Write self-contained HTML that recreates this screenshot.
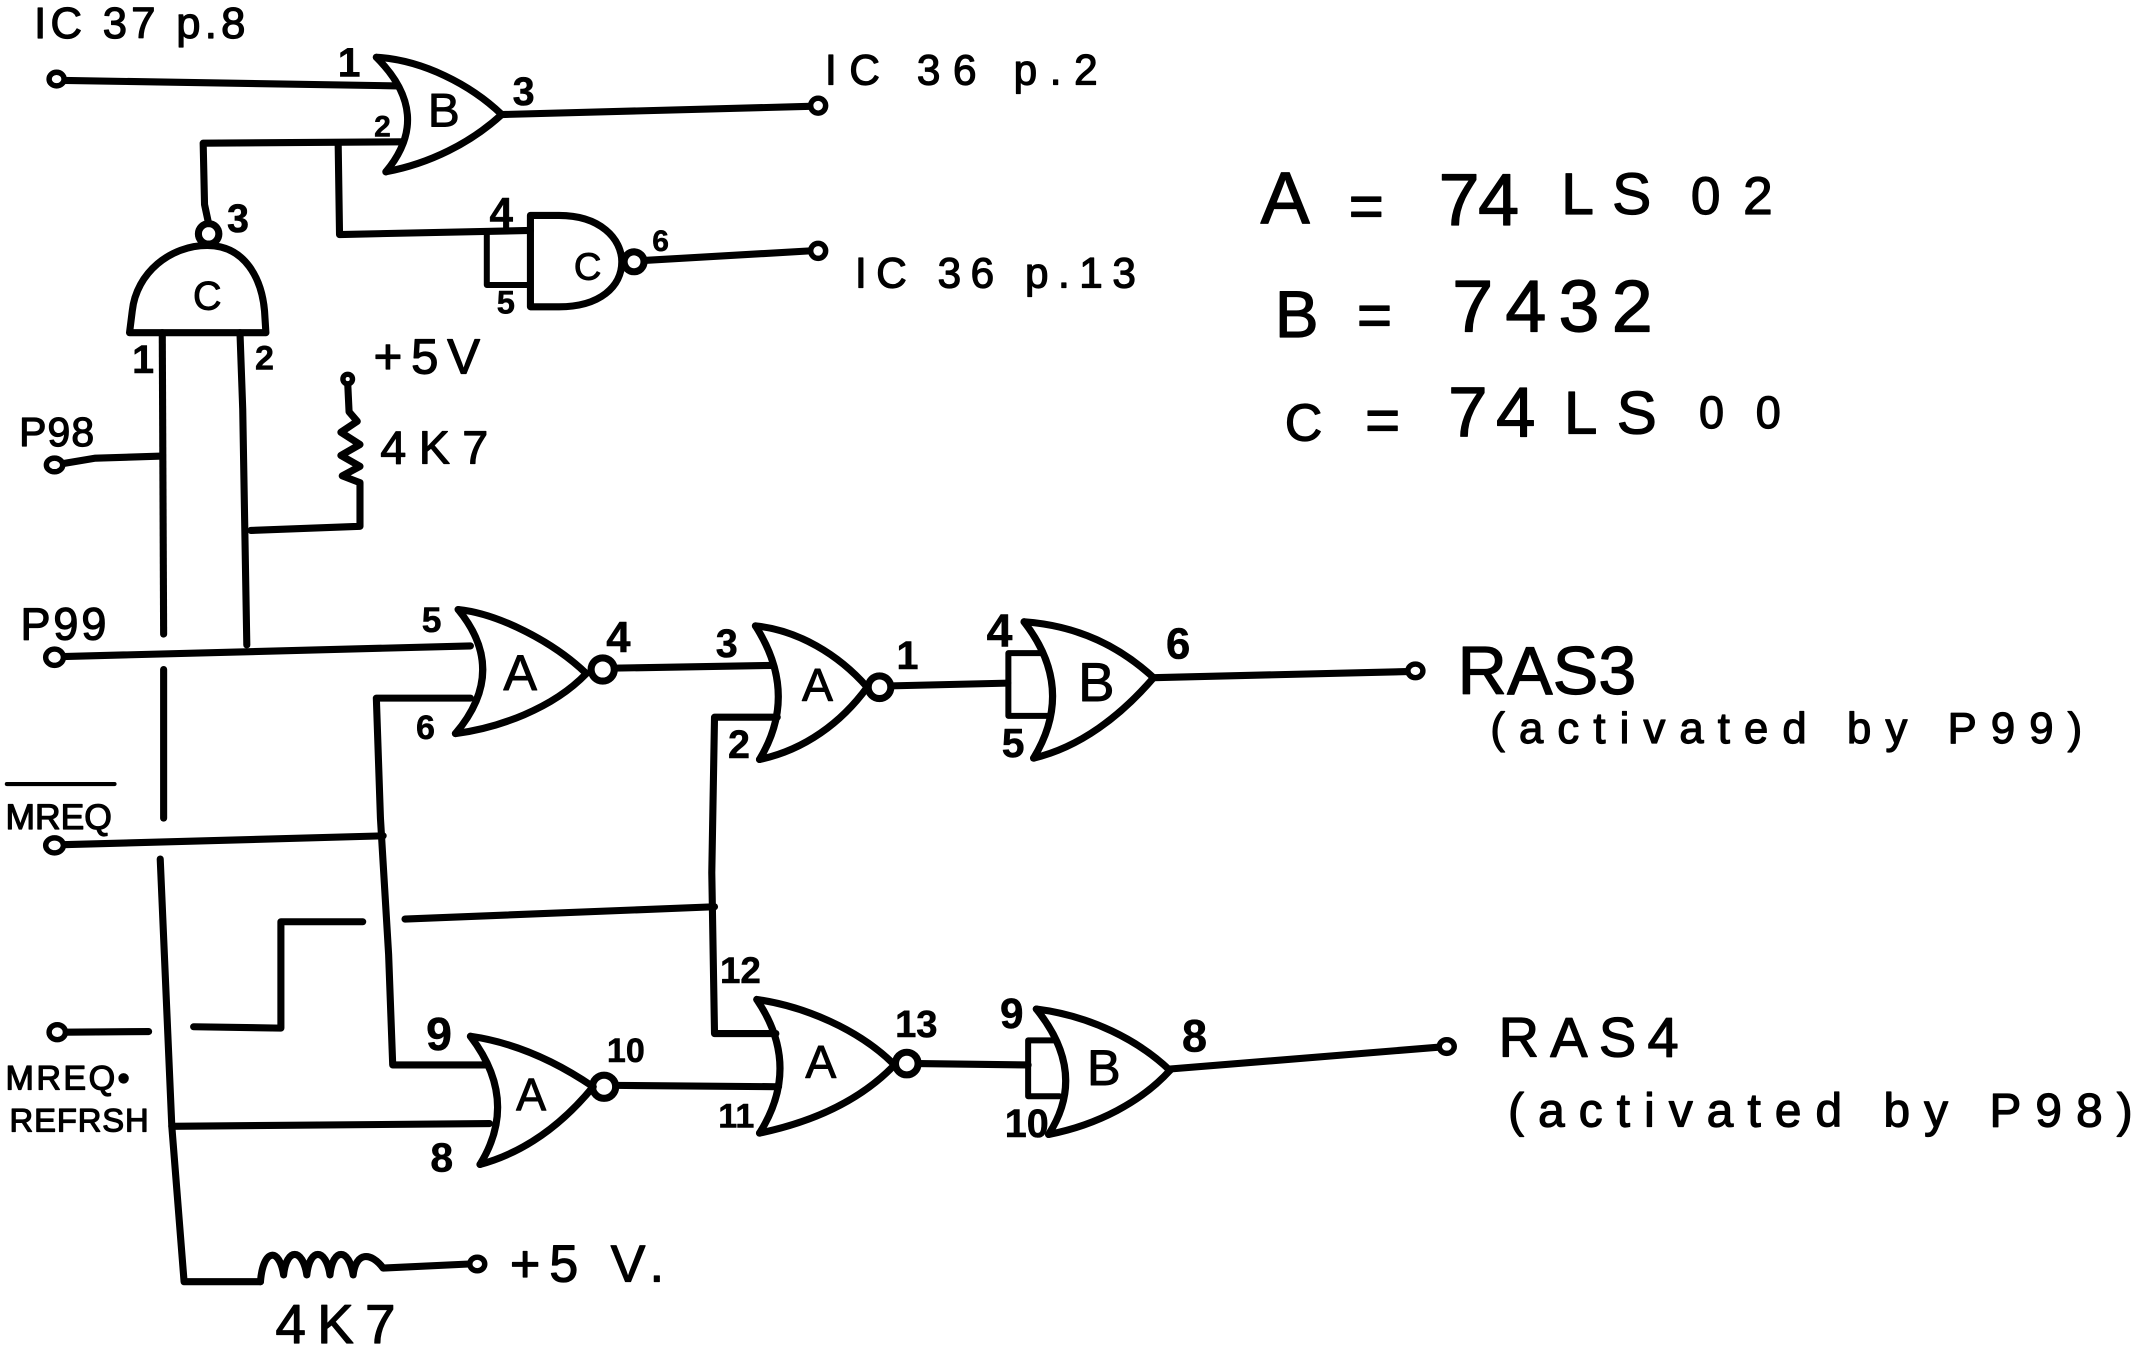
<!DOCTYPE html>
<html>
<head>
<meta charset="utf-8">
<style>
  html, body { margin:0; padding:0; background:#fff; overflow:hidden; }
  svg { display:block; }
  text { font-family:"Liberation Sans", sans-serif; fill:#000; stroke:#000; stroke-width:0.9; stroke-linejoin:round; }
  .pin { font-weight:bold; stroke-width:0.4; text-anchor:middle; }
  .gl { text-anchor:middle; stroke-width:0.7; }
  .w { fill:none; stroke:#000; stroke-width:5.2; stroke-linecap:round; stroke-linejoin:round; }
  .g { fill:none; stroke:#000; stroke-width:5.2; stroke-linecap:round; stroke-linejoin:round; }
  .b { fill:none; stroke:#000; stroke-width:4.4; stroke-linecap:round; stroke-linejoin:round; }
  .t { fill:#fff; stroke:#000; stroke-width:4; }
</style>
</head>
<body>
<svg xmlns="http://www.w3.org/2000/svg" width="2137" height="1345" viewBox="0 0 1567.2 986.4" preserveAspectRatio="none">
  <rect x="0" y="0" width="1567.2" height="986.4" fill="#fff"/>

  <!-- ===== TOP SECTION ===== -->
  <text x="25" y="28" font-size="32" textLength="155">IC 37 p.8</text>
  <path class="w" d="M47,59 L292,63"/>
  <ellipse class="t" cx="41.5" cy="58" rx="5.5" ry="5"/>

  <!-- Gate B (top OR) -->
  <path class="g" d="M276,42 Q318,84 283,126"/>
  <path class="g" d="M276,42 C310,44 345,62 368,84"/>
  <path class="g" d="M283,126 C315,120 345,105 368,84"/>
  <text class="gl" x="325.5" y="92.6" font-size="35">B</text>
  <text class="pin" x="256" y="56" font-size="30">1</text>
  <text class="pin" x="280.5" y="100" font-size="22">2</text>
  <text class="pin" x="384" y="77" font-size="29">3</text>

  <!-- output B top -->
  <path class="w" d="M368,84 L594,78"/>
  <ellipse class="t" cx="600" cy="77.5" rx="5.5" ry="5.5"/>
  <text x="605" y="62" font-size="31" textLength="200">IC 36 p.2</text>

  <!-- input 2 wire & C1 output -->
  <path class="w" d="M153,164 L150,150 L149,105 L296,104"/>
  <path class="w" d="M248,105 L249,172 L389,169"/>
  <path class="b" d="M357,170 L357,209 L389,209"/>

  <!-- Gate C small (NAND right) -->
  <path class="g" d="M389,158 L410,158 C440,158 456,175 456,192 C456,210 440,225 410,225 L389,225 Z"/>
  <circle class="g" cx="465" cy="192" r="7.3" fill="#fff"/>
  <text class="gl" x="431" y="205" font-size="28">C</text>
  <text class="pin" x="367.6" y="167" font-size="31">4</text>
  <text class="pin" x="371" y="230" font-size="24">5</text>
  <text class="pin" x="484.5" y="184" font-size="22">6</text>
  <path class="w" d="M472.5,191 L594,184"/>
  <ellipse class="t" cx="600" cy="184" rx="5.5" ry="5.5"/>
  <text x="627" y="211" font-size="31" textLength="206">IC 36 p.13</text>

  <!-- Gate C vertical (NAND pointing up) -->
  <path class="g" d="M95,244 L97,228 C100,200 125,180 152,180 C180,180 192,205 194,228 L195,244 Z"/>
  <circle class="g" cx="153" cy="171.5" r="7.5" fill="#fff"/>
  <text class="gl" x="152" y="227" font-size="29">C</text>
  <text class="pin" x="174.5" y="170" font-size="29">3</text>
  <text class="pin" x="105" y="273.6" font-size="29">1</text>
  <text class="pin" x="194" y="271" font-size="25">2</text>

  <!-- legs -->
  <path class="w" d="M119,244 L120,465"/>
  <path class="w" d="M120,491 L120,600"/>
  <path class="w" d="M117.5,630 L126,826 L135,940 L191,940"/>
  <path class="w" d="M176,244 L178,300 L181,473"/>

  <!-- P98 -->
  <text x="14" y="327" font-size="30" textLength="55">P98</text>
  <path class="w" d="M46,340 L70,336 L119,334.5"/>
  <ellipse class="t" cx="40" cy="341" rx="6" ry="5"/>

  <!-- top pull-up resistor -->
  <text x="274" y="274" font-size="36" textLength="78">+5V</text>
  <text x="279" y="340" font-size="34" textLength="79">4K7</text>
  <path class="w" d="M255,281 L256,302 L262,309 L250,317 L264,326 L250,334 L264,342 L251,349 L264,354 L264,386 L184,389"/>
  <circle class="t" cx="255" cy="278" r="3.5"/>

  <!-- ===== P99 / MREQ section ===== -->
  <text x="15" y="469" font-size="33" textLength="63">P99</text>
  <path class="w" d="M46,481.5 L345,473.7"/>
  <ellipse class="t" cx="40" cy="482" rx="6.5" ry="6"/>

  <text x="4" y="608" font-size="26" textLength="78">MREQ</text>
  <path class="w" d="M5,575 L84,575" style="stroke-width:3"/>
  <path class="w" d="M46,619.5 L281,613"/>
  <ellipse class="t" cx="40" cy="620" rx="6.5" ry="5.5"/>

  <text x="4" y="799" font-size="25" textLength="91">MREQ•</text>
  <text x="7" y="830" font-size="24" textLength="102">REFRSH</text>
  <path class="w" d="M48,757 L109,756.5"/>
  <ellipse class="t" cx="42" cy="757" rx="6" ry="5.5"/>
  <path class="w" d="M142,753 L206,754 L206,676 L266,676"/>
  <path class="w" d="M297,674 L524,665"/>

  <!-- vertical at x~281 -->
  <path class="w" d="M345,512 L276,512 L279,600 L285,700 L288,781 L356,781"/>

  <!-- Gate A1 -->
  <path class="g" d="M336,447 Q373,492 334,538"/>
  <path class="g" d="M336,447 C365,450 405,470 430,494"/>
  <path class="g" d="M334,538 C365,534 405,520 430,494"/>
  <circle class="g" cx="442" cy="491" r="8.5" fill="#fff"/>
  <text class="gl" x="381.5" y="506" font-size="37">A</text>
  <text class="pin" x="316.5" y="463.6" font-size="26">5</text>
  <text class="pin" x="453.5" y="478" font-size="32">4</text>
  <text class="pin" x="312" y="542" font-size="25">6</text>

  <!-- A1 -> A2 -->
  <path class="w" d="M450.5,490 L567,488"/>

  <!-- Gate A2 -->
  <path class="g" d="M554,459 Q586,509 557,557"/>
  <path class="g" d="M554,459 C585,462 615,480 636,504"/>
  <path class="g" d="M557,557 C590,550 617,530 636,504"/>
  <circle class="g" cx="645" cy="504" r="8.3" fill="#fff"/>
  <text class="gl" x="599.5" y="514" font-size="34">A</text>
  <text class="pin" x="533" y="481.7" font-size="29">3</text>
  <text class="pin" x="665.5" y="490.8" font-size="29">1</text>
  <text class="pin" x="542" y="556" font-size="29">2</text>

  <!-- vertical at x~524 -->
  <path class="w" d="M570,526 L524,526 L522,640 L524,758 L569,758"/>
  <text class="pin" x="543" y="721" font-size="27">12</text>

  <!-- A2 -> B2 -->
  <path class="w" d="M653.5,503 L739,501"/>
  <path class="b" d="M765,479 L739.5,479 L739.5,525 L770,525"/>

  <!-- Gate B2 -->
  <path class="g" d="M751,456 Q789,505 758,556"/>
  <path class="g" d="M751,456 C792,459 822,475 846,497"/>
  <path class="g" d="M758,556 C792,548 822,525 846,497"/>
  <text class="gl" x="804" y="514" font-size="40">B</text>
  <text class="pin" x="733" y="474" font-size="34">4</text>
  <text class="pin" x="743" y="555" font-size="30">5</text>
  <text class="pin" x="864" y="483" font-size="32">6</text>

  <path class="w" d="M846,497 L1032,492.5"/>
  <ellipse class="t" cx="1038" cy="492" rx="5.5" ry="5"/>
  <text x="1069" y="509" font-size="50" textLength="131">RAS3</text>
  <text x="1093" y="545" font-size="32" textLength="434">(activated by P99)</text>

  <!-- Gate A3 -->
  <path class="w" d="M126,826 L359,824"/>
  <path class="g" d="M345,760 Q381,807 352,854"/>
  <path class="g" d="M345,760 C380,765 410,780 435,797"/>
  <path class="g" d="M352,854 C385,845 412,825 435,797"/>
  <circle class="g" cx="443" cy="797" r="8.5" fill="#fff"/>
  <text class="gl" x="389.5" y="814" font-size="33">A</text>
  <text class="pin" x="322" y="770" font-size="34">9</text>
  <text class="pin" x="459" y="779" font-size="25">10</text>
  <text class="pin" x="324" y="859" font-size="30">8</text>

  <path class="w" d="M451.5,796 L571,797"/>

  <!-- Gate A4 -->
  <path class="g" d="M555,733 Q588,782 557,831"/>
  <path class="g" d="M555,733 C590,738 630,755 656,781"/>
  <path class="g" d="M557,831 C595,823 630,808 656,781"/>
  <circle class="g" cx="665" cy="780" r="8.3" fill="#fff"/>
  <text class="gl" x="602" y="790.5" font-size="34">A</text>
  <text class="pin" x="672" y="760.5" font-size="28">13</text>
  <text class="pin" x="540" y="827" font-size="25">11</text>

  <!-- A4 -> B3 -->
  <path class="w" d="M673.5,780 L754,781"/>
  <path class="b" d="M774,763 L754,763 L754,804 L777,804"/>

  <!-- Gate B3 -->
  <path class="g" d="M760,740 Q798,787 769,832"/>
  <path class="g" d="M760,740 C800,745 835,763 858,785"/>
  <path class="g" d="M769,832 C805,825 837,808 858,785"/>
  <text class="gl" x="809.5" y="795.7" font-size="37">B</text>
  <text class="pin" x="742" y="754" font-size="31">9</text>
  <text class="pin" x="753" y="834" font-size="29">10</text>
  <text class="pin" x="876" y="771" font-size="33">8</text>

  <path class="w" d="M858,784 L1055,768"/>
  <ellipse class="t" cx="1061" cy="767.5" rx="5.5" ry="5"/>
  <text x="1099" y="775" font-size="41" textLength="132">RAS4</text>
  <text x="1106" y="826" font-size="35" textLength="458">(activated by P98)</text>

  <!-- bottom resistor -->
  <path class="w" d="M191,940 C193,915 205,915 208,935 C210,915 222,915 225,935 C227,915 239,915 242,935 C244,915 256,915 259,935 C261,918 272,918 281,930 L344,927"/>
  <ellipse class="t" cx="350" cy="927" rx="5.5" ry="5"/>
  <text x="374" y="940" font-size="38" textLength="113">+5 V.</text>
  <text x="202" y="985" font-size="40" textLength="88">4K7</text>

  <!-- ===== Legend ===== -->
  <text x="942.5" y="164" font-size="54" text-anchor="middle">A</text>
  <text x="1002" y="166" font-size="44" text-anchor="middle">=</text>
  <text x="1055" y="165" font-size="54" textLength="59">74</text>
  <text x="1145" y="157" font-size="43" textLength="66">LS</text>
  <text x="1240" y="157" font-size="39" textLength="60">02</text>

  <text x="951" y="247" font-size="48" text-anchor="middle">B</text>
  <text x="1008" y="246" font-size="44" text-anchor="middle">=</text>
  <text x="1065" y="243" font-size="54" textLength="147">7432</text>

  <text x="956" y="323" font-size="38" text-anchor="middle">C</text>
  <text x="1014" y="323" font-size="44" text-anchor="middle">=</text>
  <text x="1062" y="320" font-size="52" textLength="64">74</text>
  <text x="1147" y="318" font-size="44" textLength="68">LS</text>
  <text x="1246" y="314" font-size="33" textLength="60">00</text>
</svg>
</body>
</html>
